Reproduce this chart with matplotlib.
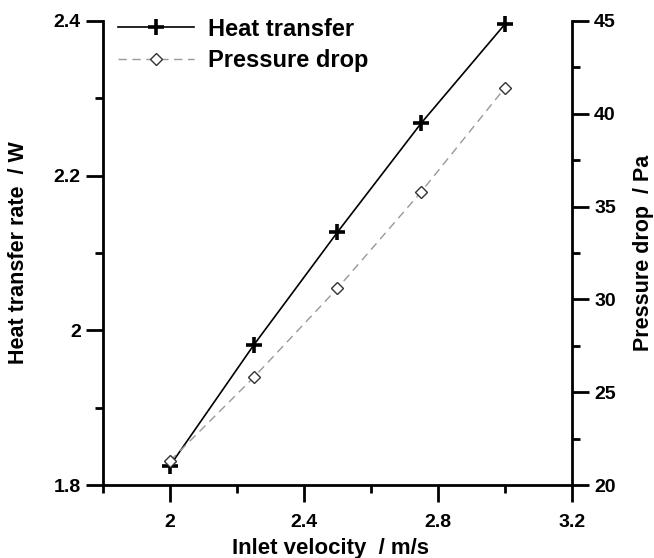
import numpy as np
import matplotlib
matplotlib.use("Agg")
import matplotlib.pyplot as plt
from matplotlib.ticker import MultipleLocator, FuncFormatter

plt.rcParams['font.family'] = ['Liberation Sans', 'DejaVu Sans']
plt.rcParams['font.weight'] = 'bold'

# inlet velocity (m/s)
velocity = [2.0, 2.25, 2.5, 2.75, 3.0]
# heat transfer rate (W)
heat_transfer = [1.825, 1.981, 2.127, 2.268, 2.396]
# pressure drop (Pa)
pressure_drop = [21.3, 25.8, 30.6, 35.8, 41.4]

fig = plt.figure(figsize=(6.54, 5.58), dpi=100)
ax = fig.add_axes([0.1575, 0.1308, 0.7171, 0.8316])
ax2 = ax.twinx()


def fmt(v, pos):
    return f"{v:g}"


l1, = ax.plot(velocity, heat_transfer, color='black', lw=1.2, marker='+',
              ms=11, mew=2.6, label='Heat transfer', clip_on=False, zorder=3)
l2, = ax2.plot(velocity, pressure_drop, color='#999999', lw=1.0,
               dashes=(6, 4), marker='D', ms=6.5, mfc='white', mec='#333333',
               mew=1.0, label='Pressure drop', clip_on=False)

ax.set_xlim(1.8, 3.2)
ax.set_ylim(1.8, 2.4)
ax2.set_ylim(20, 45)

ax.set_xticks([2.0, 2.4, 2.8, 3.2])
ax.xaxis.set_minor_locator(MultipleLocator(0.2))
ax.yaxis.set_major_locator(MultipleLocator(0.2))
ax.yaxis.set_minor_locator(MultipleLocator(0.1))
ax2.yaxis.set_major_locator(MultipleLocator(5))
ax2.yaxis.set_minor_locator(MultipleLocator(2.5))
ax.xaxis.set_major_formatter(FuncFormatter(fmt))
ax.yaxis.set_major_formatter(FuncFormatter(fmt))
ax2.yaxis.set_major_formatter(FuncFormatter(fmt))

for a in (ax, ax2):
    a.spines['top'].set_visible(False)
    for s in a.spines.values():
        s.set_linewidth(2.0)
    a.tick_params(which='major', direction='out', length=12, width=2.0,
                  labelsize=14, pad=4)
    a.tick_params(which='minor', direction='out', length=6, width=2.0)
ax.tick_params(axis='x', which='major', pad=9)
ax.spines['right'].set_visible(False)
ax2.spines['left'].set_visible(False)
ax2.spines['bottom'].set_visible(False)

ax.set_xlabel('Inlet velocity  / m/s', fontsize=16, fontweight='bold', labelpad=4)
ax.xaxis.set_label_coords(0.485, -0.115)
ax.set_ylabel('Heat transfer rate  / W', fontsize=15.5, fontweight='bold', labelpad=18)
ax2.set_ylabel('Pressure drop  / Pa', fontsize=15.5, fontweight='bold', labelpad=12)

leg = ax.legend(handles=[l1, l2], loc='upper left', bbox_to_anchor=(0.032, 1.007),
                frameon=False, handlelength=3.2, handletextpad=0.6,
                labelspacing=0.37, borderpad=0, borderaxespad=0,
                prop={'weight': 'bold', 'size': 17})

fig.savefig('out.png', dpi=100)
